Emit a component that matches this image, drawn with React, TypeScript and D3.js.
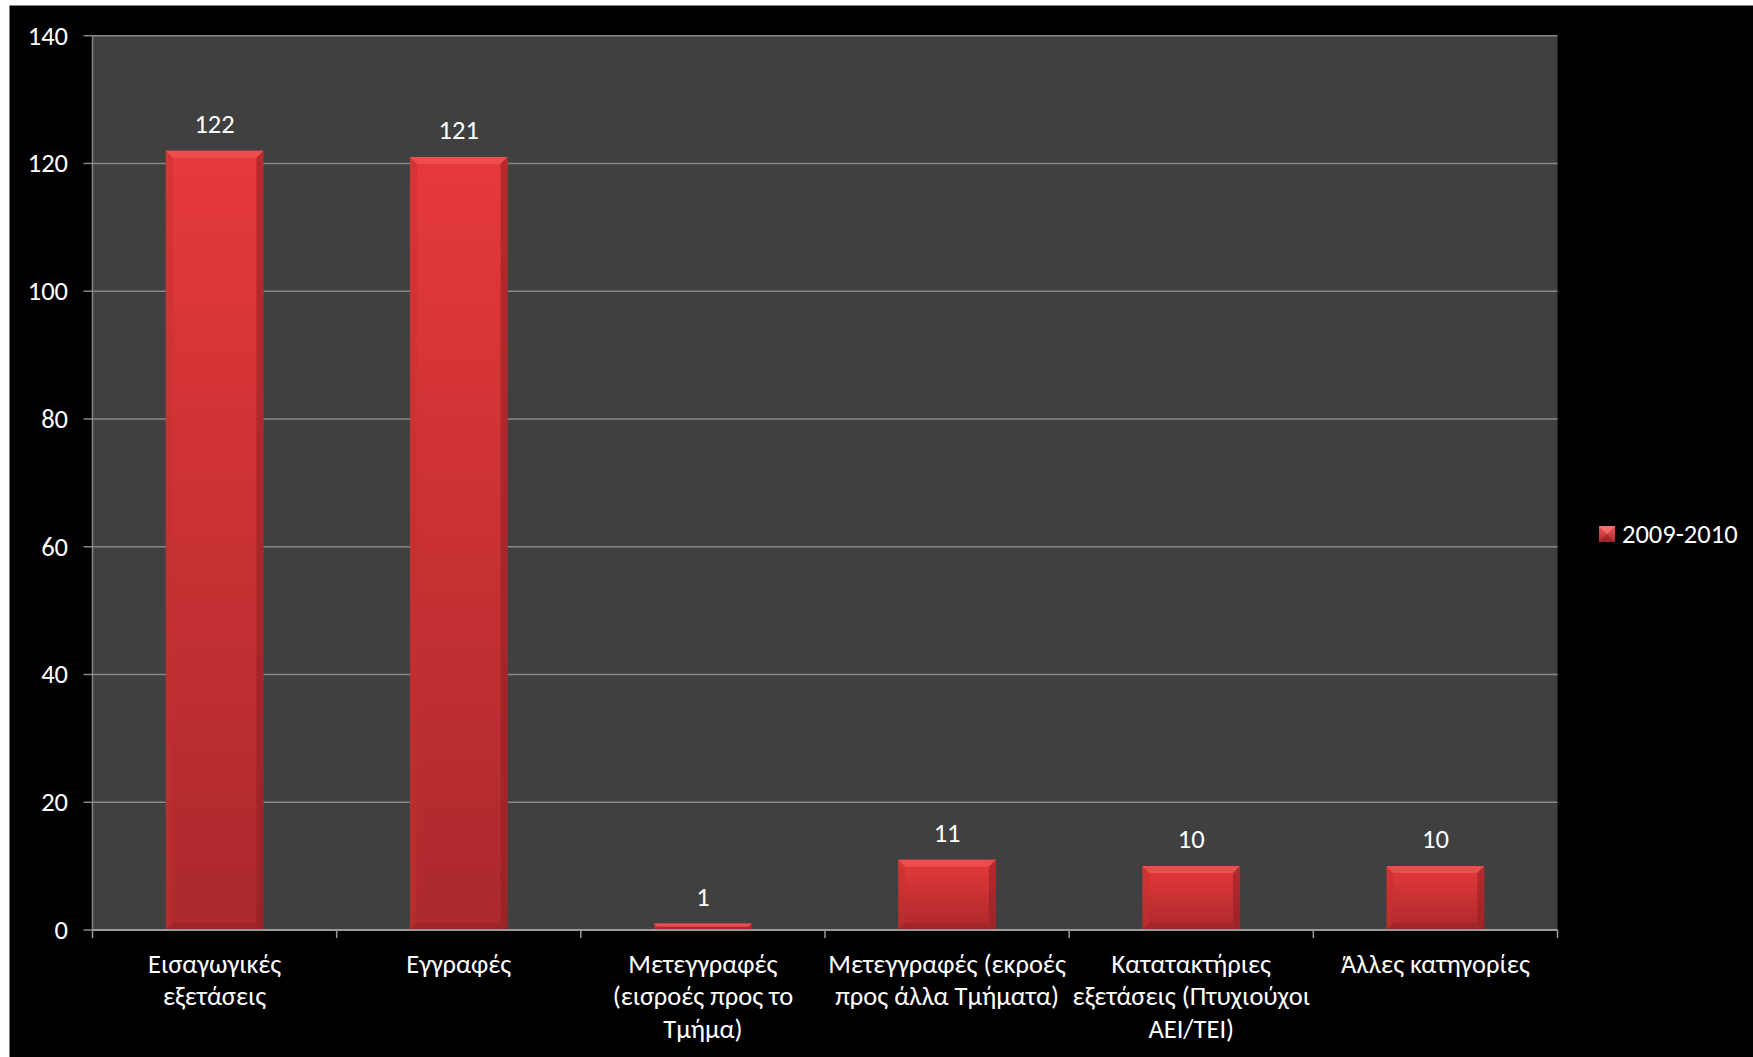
import React from "react";
import * as d3 from "d3";

const categories: string[][] = [
  ["Εισαγωγικές", "εξετάσεις"],
  ["Εγγραφές"],
  ["Μετεγγραφές", "(εισροές προς το", "Τμήμα)"],
  ["Μετεγγραφές (εκροές", "προς άλλα Τμήματα)"],
  ["Κατατακτήριες", "εξετάσεις (Πτυχιούχοι", "ΑΕΙ/ΤΕΙ)"],
  ["Άλλες κατηγορίες"],
];
const values: number[] = [122, 121, 1, 11, 10, 10];
const yTicks: number[] = [0, 20, 40, 60, 80, 100, 120, 140];
const seriesName = "2009-2010";

const W = 1753;
const H = 1057;
const FONT = "Carlito, Calibri, 'Open Sans', sans-serif";
const FS = 26.5;

function Bar({ x, y, w, h }: { x: number; y: number; w: number; h: number }) {
  const b = Math.min(7, h / 2, w / 2);
  const x2 = x + w;
  const y2 = y + h;
  return (
    <g>
      <rect x={x} y={y} width={w} height={h} fill="url(#barGrad)" />
      <polygon
        points={`${x},${y} ${x2},${y} ${x2 - b},${y + b} ${x + b},${y + b}`}
        fill="#ee5153"
        opacity={0.85}
      />
      <polygon
        points={`${x},${y} ${x + b},${y + b} ${x + b},${y2 - b} ${x},${y2}`}
        fill="#c3302f"
        opacity={0.45}
      />
      <polygon
        points={`${x2},${y} ${x2},${y2} ${x2 - b},${y2 - b} ${x2 - b},${y + b}`}
        fill="#8e1f22"
        opacity={0.55}
      />
      <polygon
        points={`${x},${y2} ${x + b},${y2 - b} ${x2 - b},${y2 - b} ${x2},${y2}`}
        fill="#8e1f22"
        opacity={0.4}
      />
    </g>
  );
}

export default function App() {
  const left = 92.5;
  const right = 1557.5;
  const top = 35.7;
  const bottom = 930;

  const x = d3
    .scaleBand<number>()
    .domain(values.map((_, i) => i))
    .range([left, right])
    .paddingInner(0.6)
    .paddingOuter(0.3);
  const xb = d3
    .scaleBand<number>()
    .domain(values.map((_, i) => i))
    .range([left, right]);
  const y = d3.scaleLinear().domain([0, 140]).range([bottom, top]);

  return (
    <div style={{ position: "absolute", left: 0, top: 0 }}>
      <svg width={W} height={H} style={{ display: "block" }}>
        <defs>
          <linearGradient id="barGrad" x1="0" y1="0" x2="0" y2="1">
            <stop offset="0%" stopColor="#e6393b" />
            <stop offset="100%" stopColor="#ab292c" />
          </linearGradient>
          <linearGradient id="legGrad" x1="0" y1="0" x2="0" y2="1">
            <stop offset="0%" stopColor="#f0585a" />
            <stop offset="100%" stopColor="#b02b2d" />
          </linearGradient>
        </defs>
        <rect x={0} y={0} width={W} height={H} fill="#ffffff" />
        <rect x={9.5} y={5.5} width={W} height={H} fill="#000000" />
        <rect x={left} y={top} width={right - left} height={bottom - top} fill="#404040" />

        {yTicks.map((t) => (
          <g key={t}>
            <line x1={left} x2={right} y1={y(t)} y2={y(t)} stroke="#878787" strokeWidth={1.5} />
            <line x1={left - 9} x2={left} y1={y(t)} y2={y(t)} stroke="#878787" strokeWidth={1.5} />
            <text
              x={68}
              y={y(t)}
              textAnchor="end"
              dominantBaseline="central"
              fill="#ffffff"
              fontFamily={FONT}
              fontSize={FS}
            >
              {t}
            </text>
          </g>
        ))}

        {values.map((v, i) => {
          const bx = x(i)!;
          const bw = x.bandwidth();
          const by = y(v);
          return (
            <g key={i}>
              <Bar x={bx} y={by} w={bw} h={bottom - by} />
              <text
                x={bx + bw / 2}
                y={by - 27}
                textAnchor="middle"
                dominantBaseline="central"
                fill="#ffffff"
                fontFamily={FONT}
                fontSize={FS}
              >
                {v}
              </text>
            </g>
          );
        })}

        <line x1={left} x2={left} y1={top} y2={bottom} stroke="#878787" strokeWidth={1.5} />
        <line x1={left} x2={right} y1={bottom} y2={bottom} stroke="#9a9a9a" strokeWidth={2} />
        {d3.range(values.length + 1).map((i) => {
          const tx = i < values.length ? xb(i)! : right;
          return <line key={i} x1={tx} x2={tx} y1={bottom} y2={bottom + 8} stroke="#9a9a9a" strokeWidth={1.5} />;
        })}

        {categories.map((lines, i) => {
          const cx = xb(i)! + xb.bandwidth() / 2;
          return (
            <text key={i} textAnchor="middle" fill="#ffffff" fontFamily={FONT} fontSize={FS}>
              {lines.map((ln, j) => (
                <tspan key={j} x={cx} y={963.7 + j * 32.5} dominantBaseline="central">
                  {ln}
                </tspan>
              ))}
            </text>
          );
        })}

        <g>
          <rect x={1599} y={526} width={16} height={16} fill="url(#legGrad)" />
          <polygon points="1599,526 1615,526 1607,534" fill="#f47577" opacity={0.8} />
          <polygon points="1599,542 1615,542 1607,534" fill="#8e1f22" opacity={0.6} />
          <text x={1622} y={534} dominantBaseline="central" fill="#ffffff" fontFamily={FONT} fontSize={FS}>
            {seriesName}
          </text>
        </g>
      </svg>
    </div>
  );
}
